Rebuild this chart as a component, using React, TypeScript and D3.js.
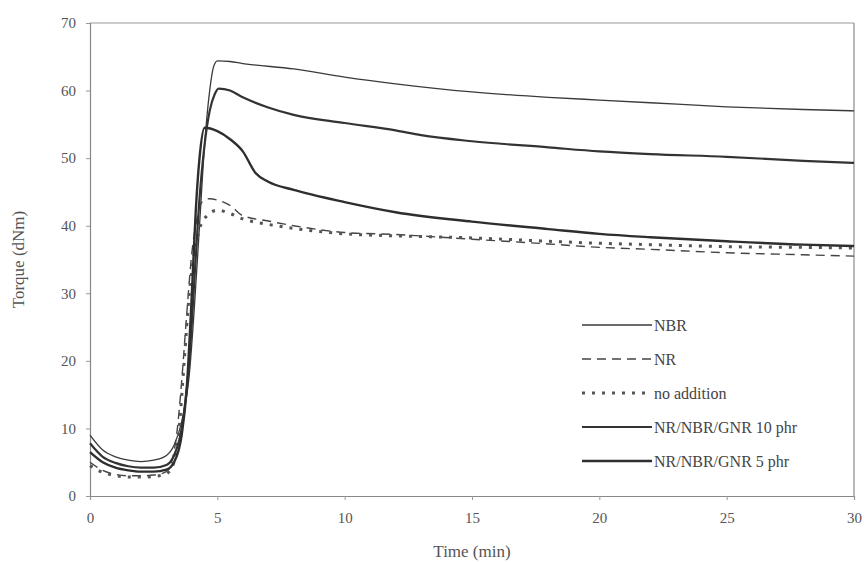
import React, { useEffect, useRef } from "react";
import * as d3 from "d3";

// time (min) and torque (dNm)
const nbrT = [0, 0.5, 1, 1.5, 2, 2.5, 3, 3.3, 3.6, 3.9, 4.1, 4.3, 4.5, 4.7, 4.85, 5, 5.5, 6, 8, 10, 12, 15, 18, 20, 22, 25, 28, 30];
const nbrV = [9, 6.8, 5.8, 5.3, 5.1, 5.3, 6.0, 7.5, 11, 18, 28, 40, 52, 60, 63.5, 64.4, 64.3, 64, 63.2, 62, 61, 59.8, 59, 58.6, 58.2, 57.6, 57.2, 57];

const nrT = [0, 0.5, 1, 1.5, 2, 2.5, 3, 3.2, 3.4, 3.6, 3.8, 4, 4.2, 4.4, 4.7, 5, 5.5, 6, 7, 8, 10, 12, 15, 18, 20, 22, 25, 28, 30];
const nrV = [5, 3.8, 3.2, 3, 3, 3.1, 3.6, 5, 9, 17, 27, 36, 41, 43.5, 44, 43.8, 43, 41.5, 40.7, 40, 39, 38.7, 38, 37.3, 36.8, 36.5, 36, 35.7, 35.5];

const noAddT = [0, 0.5, 1, 1.5, 2, 2.5, 3, 3.3, 3.5, 3.7, 3.9, 4.1, 4.3, 4.6, 5, 5.5, 6, 7, 8, 10, 12, 15, 18, 20, 22, 25, 28, 30];
const noAddV = [4.5, 3.5, 3, 2.8, 2.8, 2.9, 3.3, 5, 10, 20, 30, 36, 39.5, 41.5, 42.3, 41.8, 41, 40.2, 39.6, 38.8, 38.5, 38.2, 37.7, 37.4, 37.2, 36.9, 36.8, 36.7];

const gnr10T = [0, 0.5, 1, 1.5, 2, 2.5, 3, 3.3, 3.6, 3.9, 4.1, 4.3, 4.5, 4.7, 4.9, 5.05, 5.5, 6, 7, 8, 10, 12, 13, 15, 18, 20, 22, 25, 28, 30];
const gnr10V = [7.8, 5.8, 4.9, 4.4, 4.2, 4.2, 4.6, 6, 10, 20, 32, 44, 52, 57, 59.5, 60.3, 60, 59, 57.5, 56.4, 55.2, 54.1, 53.4, 52.5, 51.6, 51, 50.6, 50.2, 49.6, 49.3];

const gnr5T = [0, 0.5, 1, 1.5, 2, 2.5, 3, 3.3, 3.6, 3.8, 4, 4.15, 4.3, 4.5, 5, 5.5, 6, 6.5, 7, 8, 10, 12, 15, 18, 20, 22, 25, 28, 30];
const gnr5V = [6.5, 5, 4.2, 3.8, 3.6, 3.6, 3.9, 5, 9, 16, 30, 42, 50, 54.5, 54, 52.8, 51, 47.8, 46.5, 45.3, 43.5, 42, 40.6, 39.5, 38.8, 38.3, 37.7, 37.2, 37];

const seriesNames = ["NBR", "NR", "no addition", "NR/NBR/GNR 10 phr", "NR/NBR/GNR 5 phr"];
const xTicks = [0, 5, 10, 15, 20, 25, 30];
const yTicks = [0, 10, 20, 30, 40, 50, 60, 70];

const W = 865;
const H = 562;

export default function App() {
  const ref = useRef<SVGSVGElement>(null);

  useEffect(() => {
    const svg = d3.select(ref.current);
    svg.selectAll("*").remove();

    const x = d3.scaleLinear().domain([0, 30]).range([90, 854]);
    const y = d3.scaleLinear().domain([0, 70]).range([496, 23]);
    const font = "'Liberation Serif', 'Times New Roman', serif";

    // frame (top + right)
    svg.append("line").attr("x1", x(0)).attr("x2", x(30)).attr("y1", y(70)).attr("y2", y(70))
      .attr("stroke", "#9a9a9a").attr("stroke-width", 1.2);
    svg.append("line").attr("x1", x(30)).attr("x2", x(30)).attr("y1", y(70)).attr("y2", y(0))
      .attr("stroke", "#8a8a8a").attr("stroke-width", 1.2);

    const gx = svg.append("g").attr("transform", `translate(0,${y(0)})`)
      .call(d3.axisBottom(x).tickValues(xTicks).tickSize(4).tickPadding(12).tickFormat(d3.format("d")));
    const gy = svg.append("g").attr("transform", `translate(${x(0)},0)`)
      .call(d3.axisLeft(y).tickValues(yTicks).tickSize(4).tickPadding(10).tickFormat(d3.format("d")));
    [gx, gy].forEach(g => {
      g.select(".domain").attr("stroke", "#888").attr("stroke-width", 1.2);
      g.selectAll(".tick line").attr("stroke", "#999");
      g.selectAll(".tick text").attr("fill", "#555").style("font-family", font).style("font-size", "15px");
    });

    svg.append("text").attr("x", (x(0) + x(30)) / 2).attr("y", 557).attr("text-anchor", "middle")
      .attr("fill", "#555").style("font-family", font).style("font-size", "17px").text("Time (min)");
    svg.append("text").attr("transform", `translate(24,${(y(0) + y(70)) / 2}) rotate(-90)`)
      .attr("text-anchor", "middle").attr("fill", "#555")
      .style("font-family", font).style("font-size", "17px").text("Torque (dNm)");

    const styles = [
      { dash: null, w: 1.3, c: "#3a3a3a" },
      { dash: "9,6", w: 1.4, c: "#444" },
      { dash: "3,7", w: 3, c: "#555" },
      { dash: null, w: 2.2, c: "#333" },
      { dash: null, w: 2.4, c: "#2e2e2e" },
    ];
    const data = [
      d3.zip(nbrT, nbrV), d3.zip(nrT, nrV), d3.zip(noAddT, noAddV),
      d3.zip(gnr10T, gnr10V), d3.zip(gnr5T, gnr5V),
    ];

    const line = d3.line<number[]>()
      .x(d => x(d[0]))
      .y(d => y(d[1]))
      .curve(d3.curveMonotoneX);

    data.forEach((pts, i) => {
      svg.append("path").datum(pts).attr("d", line).attr("fill", "none")
        .attr("stroke", styles[i].c).attr("stroke-width", styles[i].w)
        .attr("stroke-dasharray", styles[i].dash);
    });

    // legend
    const lg = svg.append("g");
    seriesNames.forEach((name, i) => {
      const ly = 325 + i * 34;
      lg.append("line").attr("x1", 582).attr("x2", 652).attr("y1", ly).attr("y2", ly)
        .attr("stroke", styles[i].c).attr("stroke-width", styles[i].w)
        .attr("stroke-dasharray", styles[i].dash);
      lg.append("text").attr("x", 654).attr("y", ly).attr("dy", "0.35em")
        .attr("fill", "#444").style("font-family", font).style("font-size", "16px").text(name);
    });
  }, []);

  return (
    <svg ref={ref} width={W} height={H}
      style={{ position: "absolute", left: 0, top: 0, background: "#fff" }} />
  );
}
